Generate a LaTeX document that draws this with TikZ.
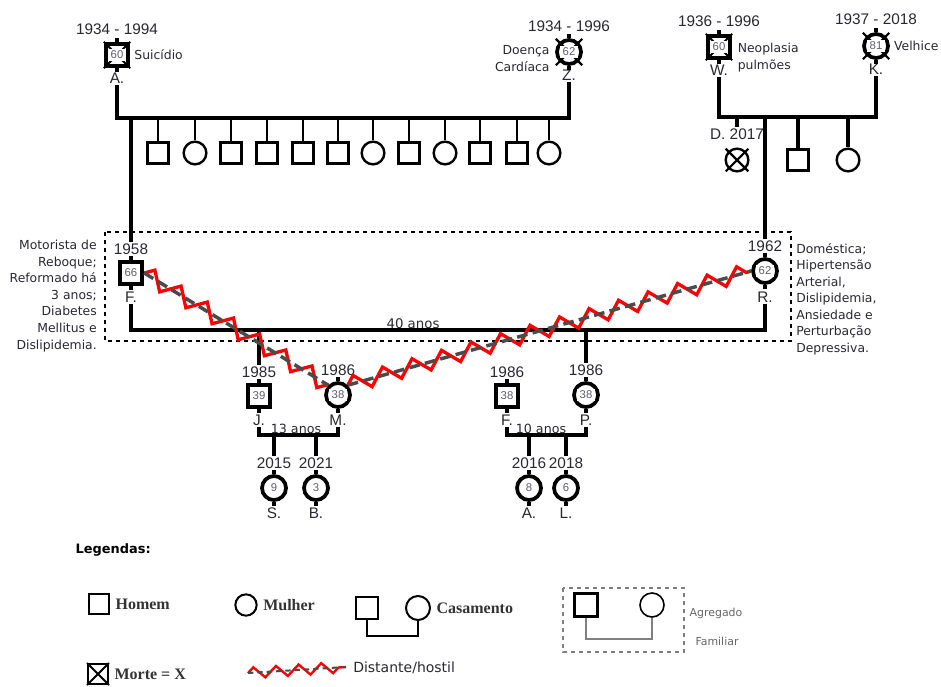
\documentclass[tikz,border=0pt]{standalone}
\usepackage{fontspec}
\setmainfont{Liberation Sans}
\newfontfamily\notafont{DejaVu Sans}
\newfontfamily\legfont{Liberation Serif}
\usepackage{tikz}
\usetikzlibrary{positioning,calc,decorations.pathmorphing}
\definecolor{hostilV}{HTML}{FF0000}
\definecolor{tracoC}{RGB}{75,75,75}
\definecolor{idadeC}{RGB}{95,95,115}
\definecolor{textoC}{RGB}{40,40,50}
\tikzset{
  homem/.style={rectangle, draw, line width=2.8pt, fill=white, minimum size=17pt, inner sep=0pt},
  mulher/.style={circle, draw, line width=2.8pt, fill=white, minimum size=18pt, inner sep=0pt},
  irmao/.style={rectangle, draw, line width=1.8pt, fill=white, minimum size=16pt, inner sep=0pt},
  irma/.style={circle, draw, line width=1.8pt, fill=white, minimum size=17pt, inner sep=0pt},
  idade/.style={font=\fontsize{8.5}{9}\selectfont, text=idadeC, fill=white, inner sep=1.8pt},
  ano/.style={font=\fontsize{11.5}{12}\selectfont, text=textoC, inner sep=1pt},
  nome/.style={font=\fontsize{11.5}{12}\selectfont, text=textoC, inner sep=1pt},
  nota/.style={font=\notafont\fontsize{9.3}{12.4}\selectfont, text=textoC, inner sep=0pt},
  lig/.style={line width=2.5pt},
  desc/.style={line width=1.9pt},
  hostil/.style={draw=hostilV, line width=2.5pt, decorate,
                 decoration={zigzag, segment length=23pt, amplitude=6pt}},
  hostilc/.style={draw=tracoC, line width=2.6pt, dash pattern=on 8pt off 4pt},
  leg/.style={font=\legfont\bfseries\fontsize{12}{14}\selectfont, text=black!80, inner sep=1pt},
}

\begin{document}
\begin{tikzpicture}[x=0.75pt, y=-0.75pt]
  \useasboundingbox (0,0) rectangle (941,686);

  % avos
  \node[homem] (A) at (117,55) {};
  \node[mulher] (Z) at (569,52) {};
  \node[homem] (W) at (719,47) {};
  \node[mulher] (K) at (876,46) {};
  \node[ano, above=4.5pt of A] (anoA) {1934 - 1994};
  \node[ano, above=3.5pt of Z] (anoZ) {1934 - 1996};
  \node[ano, above=4.5pt of W] (anoW) {1936 - 1996};
  \node[ano, above=4.5pt of K] (anoK) {1937 - 2018};
  \node[nome, below=2pt of A] (nA) {A.};
  \node[nome, below=2pt of Z] (nZ) {Z.};
  \node[nome, below=2pt of W] (nW) {W.};
  \node[nome, below=2pt of K] (nK) {K.};
  \node[nota, right=3pt of A] (cA) {Suicídio};
  \node[nota, align=right, left=4pt of Z, yshift=-5pt] (cZ) {Doença\\Cardíaca};
  \node[nota, align=left, right=4pt of W, yshift=-8pt] (cW) {Neoplasia\\pulmões};
  \node[nota, right=3pt of K] (cK) {Velhice};

  % fratria paterna
  \coordinate (uAZ) at (117,118);
  \draw[lig] (nA.south) |- (nZ.south |- uAZ) -- (nZ.south);
  \foreach \x/\t [count=\i] in {158/irmao,195/irma,231/irmao,267/irmao,303/irmao,338/irmao,
                                373/irma,409/irmao,445/irma,480/irmao,517/irmao,549/irma}{
    \node[\t] (i\i) at (\x,153) {};
    \draw[desc] (i\i.north) -- (i\i.north |- uAZ);
  }

  % fratria materna
  \coordinate (uWK) at (719,117);
  \draw[lig] (nW.south) |- (nK.south |- uWK) -- (nK.south);
  \node[irma] (D) at (737,160) {};
  \node[ano, above=5pt of D] (anoD) {D. 2017};
  \draw[lig] (anoD.north) -- (anoD.north |- uWK);
  \node[irmao] (t1) at (798,160) {};
  \node[irma] (t2) at (848,160) {};
  \draw[lig] (t1.north) -- (t1.north |- uWK);
  \draw[lig] (t2.north) -- (t2.north |- uWK);

  % casal
  \node[homem] (F) at (131,273) {};
  \node[mulher] (R) at (765,271) {};
  \node[ano, above=3pt of F] (anoF) {1958};
  \node[ano, above=3pt of R] (anoR) {1962};
  \node[nome, below=3pt of F] (nF) {F.};
  \node[nome, below=4pt of R] (nR) {R.};
  \draw[lig] (anoF.north) -- (anoF.north |- uAZ);
  \draw[lig] (anoR.north) -- (anoR.north |- uWK);
  \coordinate (uFR) at (131,330);
  \draw[lig] (nF.south) |- (nR.south |- uFR) -- (nR.south);
  \node[nota, font=\notafont\fontsize{10}{12}\selectfont, anchor=south] (t40) at (413,329) {40 anos};
  \draw[dashed, line width=0.8pt] (105,232) rectangle (791,341);
  \node[nota, align=right, anchor=east] (obsF) at (97,296)
    {Motorista de\\Reboque;\\Reformado há\\3 anos;\\Diabetes\\Mellitus e\\Dislipidemia.};
  \node[nota, align=left, anchor=west] (obsR) at (796,299)
    {Doméstica;\\Hipertensão\\Arterial,\\Dislipidemia,\\Ansiedade e\\Perturbação\\Depressiva.};

  % filhos e conjuges
  \node[homem] (J) at (259,396) {};
  \node[mulher] (M) at (338,395) {};
  \node[homem] (Fm) at (507,396) {};
  \node[mulher] (P) at (586,395) {};
  \node[ano, above=3pt of J] (anoJ) {1985};
  \node[ano, above=3pt of M] (anoM) {1986};
  \node[ano, above=3pt of Fm] (anoFm) {1986};
  \node[ano, above=3pt of P] (anoP) {1986};
  \node[nome, below=3pt of J] (nJ) {J.};
  \node[nome, below=3pt of M] (nM) {M.};
  \node[nome, below=3pt of Fm] (nFm) {F.};
  \node[nome, below=3pt of P] (nP) {P.};
  \draw[lig] (anoJ.north) -- (anoJ.north |- uFR);
  \draw[lig] (anoP.north) -- (anoP.north |- uFR);
  \coordinate (uJM) at (259,435);
  \coordinate (uFP) at (507,435);
  \draw[lig] (nJ.south) |- (nM.south |- uJM) -- (nM.south);
  \draw[lig] (nFm.south) |- (nP.south |- uFP) -- (nP.south);
  \node[nota, font=\notafont\fontsize{9.5}{11}\selectfont, anchor=south] (t13) at (296,434) {13 anos};
  \node[nota, font=\notafont\fontsize{9.5}{11}\selectfont, anchor=south] (t10) at (541,434) {10 anos};

  % netos
  \node[mulher] (S) at (274,488) {};
  \node[mulher] (B) at (316,488) {};
  \node[mulher] (Aa) at (529,488) {};
  \node[mulher] (L) at (566,488) {};
  \foreach \p/\a/\n in {S/2015/S.,B/2021/B.,Aa/2016/A.,L/2018/L.}{
    \node[ano, above=3pt of \p] (ano\p) {\a};
    \node[nome, below=3pt of \p] (n\p) {\n};
  }
  \draw[lig] (anoS.north) -- (anoS.north |- uJM);
  \draw[lig] (anoB.north) -- (anoB.north |- uJM);
  \draw[lig] (anoAa.north) -- (anoAa.north |- uFP);
  \draw[lig] (anoL.north) -- (anoL.north |- uFP);

  % hastes e obitos
  \foreach \p in {A,Z,W,K,F,R,J,M,Fm,P,S,B,Aa,L}{
    \draw[line width=2.4pt] (\p.north) -- ++(0,3pt) (\p.south) -- ++(0,-3pt);
  }
  \foreach \p in {A,W}{
    \draw[line width=1.4pt] (\p.north west) -- (\p.south east) (\p.north east) -- (\p.south west);
  }
  \foreach \p/\r in {Z/14pt,K/14pt,D/12pt}{
    \draw[line width=1.6pt] ([shift={(45:\r)}]\p.center) -- ([shift={(225:\r)}]\p.center)
                            ([shift={(135:\r)}]\p.center) -- ([shift={(315:\r)}]\p.center);
  }

  % relacoes hostis
  \draw[hostil] (F.east) -- (M.north west);
  \draw[hostilc] (F.east) -- (M.north west);
  \draw[hostil] (M.north east) -- (R.west);
  \draw[hostilc] (M.north east) -- (R.west);

  \foreach \p/\n in {A/60,Z/62,W/60,K/81,F/66,R/62,J/39,M/38,Fm/38,P/38,S/9,B/3,Aa/8,L/6}{
    \node[idade] at (\p) {\n};
  }

  % legenda
  \node[font=\notafont\bfseries\fontsize{9.7}{11}\selectfont, anchor=west] (legT) at (71,550) {Legendas:};
  \node[homem, line width=1.5pt, minimum size=15pt] (lH) at (99,604) {};
  \node[leg, right=3pt of lH] (tH) {Homem};
  \node[mulher, line width=1.5pt, minimum size=16pt] (lM) at (246,605) {};
  \node[leg, right=3pt of lM] (tM) {Mulher};
  \node[homem, line width=1.5pt, minimum size=17pt] (lCh) at (367,608) {};
  \node[mulher, line width=1.5pt, minimum size=18pt] (lCm) at (418,608) {};
  \coordinate (uLeg) at (367,636);
  \draw[line width=1.5pt] (lCh.south) |- (lCm.south |- uLeg) -- (lCm.south);
  \node[leg, right=3pt of lCm] (tC) {Casamento};

  \draw[dashed, gray, line width=0.8pt] (563,588) rectangle (684,652);
  \node[homem, line width=2pt, minimum size=17pt] (aH) at (586,605) {};
  \node[mulher, line width=1.2pt, minimum size=18pt] (aM) at (652,605) {};
  \coordinate (uAg) at (586,639);
  \draw[gray, line width=0.9pt] (aH.south) |- (aM.south |- uAg) -- (aM.south);
  \node[nota, font=\notafont\fontsize{8.2}{10}\selectfont, text=gray!80!black] (tAg) at (716,613) {Agregado};
  \node[nota, font=\notafont\fontsize{8.2}{10}\selectfont, text=gray!80!black] (tFa) at (717,641) {Familiar};

  \node[homem, line width=1.5pt, minimum size=15pt] (lX) at (98,674) {};
  \draw[line width=1.4pt] (lX.north west) -- (lX.south east) (lX.north east) -- (lX.south west);
  \node[leg, right=3pt of lX] (tX) {Morte = X};
  \coordinate (z1) at (248,673);
  \coordinate (z2) at (346,667);
  \draw[hostil, line width=1.8pt, decoration={zigzag, segment length=17pt, amplitude=4pt}] (z1) -- (z2);
  \draw[hostilc, line width=1.5pt, dash pattern=on 4pt off 3pt] (z1) -- (z2);
  \node[nota, font=\notafont\fontsize{10.5}{12}\selectfont, anchor=west] (tZ) at (353,668) {Distante/hostil};
\end{tikzpicture}
\end{document}
